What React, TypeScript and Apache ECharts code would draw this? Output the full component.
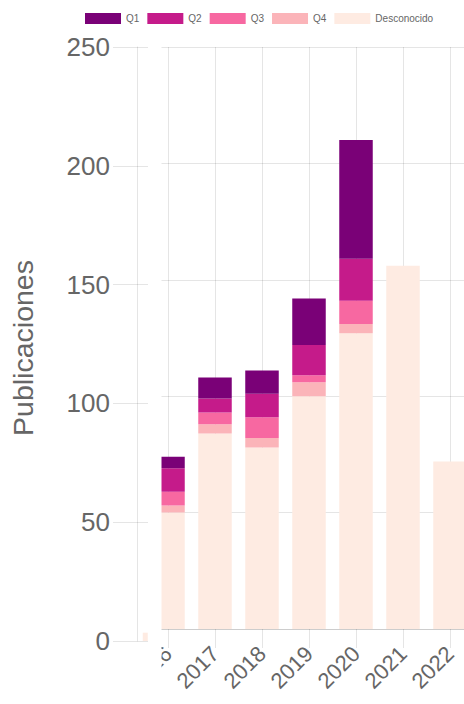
import React, { useEffect, useRef } from "react";
import * as echarts from "echarts";

const years = ["2016", "2017", "2018", "2019", "2020", "2021", "2022"];
const q1 = [5, 9, 10, 20, 51, 0, 0];
const q2 = [10, 6, 10, 13, 18, 0, 0];
const q3 = [6, 5, 9, 3, 10, 0, 0];
const q4 = [3, 4, 4, 6, 4, 0, 0];
const desconocido = [50, 84, 78, 100, 127, 156, 72];
// remnant of a hidden bar visible beside the fixed axis
const leftRemnant = [0, 3.5];

const yTicks = { min: 0, max: 250, interval: 50 };
const colors = {
  Q1: "#7a0177",
  Q2: "#c51b8a",
  Q3: "#f768a1",
  Q4: "#fbb4b9",
  Desconocido: "#feebe2",
};
const FONT = "'Liberation Sans', Arial, Helvetica, sans-serif";
const GRID_COLOR = "rgba(0,0,0,0.1)";
const TEXT_COLOR = "#666";

export default function App() {
  const ref = useRef<HTMLDivElement>(null);
  useEffect(() => {
    if (!ref.current) return;
    const chart = echarts.init(ref.current, undefined, { renderer: "svg" });
    const stackSeries = [
      { name: "Desconocido", data: desconocido },
      { name: "Q4", data: q4 },
      { name: "Q3", data: q3 },
      { name: "Q2", data: q2 },
      { name: "Q1", data: q1 },
    ].map((s) => ({
      name: s.name,
      type: "bar",
      stack: "total",
      xAxisIndex: 1,
      yAxisIndex: 1,
      barWidth: 33.5,
      data: s.data,
      itemStyle: { color: (colors as any)[s.name] },
    }));
    chart.setOption({
      animation: false,
      textStyle: { fontFamily: FONT },
      legend: {
        data: ["Q1", "Q2", "Q3", "Q4", "Desconocido"],
        left: 85,
        top: 13,
        padding: 0,
        itemWidth: 36,
        itemHeight: 11,
        itemGap: 8,
        icon: "rect",
        textStyle: { fontSize: 10, color: TEXT_COLOR, fontFamily: FONT },
      },
      grid: [
        { left: 137, top: 47, width: 11, height: 594 },
        { left: 144.5, top: 47, width: 329, height: 582 },
      ],
      xAxis: [
        {
          gridIndex: 0,
          type: "category",
          data: ["", ""],
          show: false,
        },
        {
          gridIndex: 1,
          type: "category",
          data: years,
          boundaryGap: true,
          axisLine: { show: true, lineStyle: { color: GRID_COLOR, width: 1 } },
          axisTick: {
            show: true,
            alignWithLabel: true,
            length: 19,
            lineStyle: { color: GRID_COLOR },
          },
          splitLine: { show: false },
          axisLabel: {
            interval: 0,
            rotate: 45,
            margin: 21,
            fontSize: 22,
            color: TEXT_COLOR,
            fontFamily: FONT,
          },
        },
        {
          // helper axis: vertical grid lines through the category centres
          gridIndex: 1,
          type: "value",
          min: -0.5,
          max: 6.5,
          minInterval: 1,
          maxInterval: 1,
          position: "bottom",
          axisLine: { show: false },
          axisTick: { show: false },
          axisLabel: { show: false },
          splitLine: { show: true, lineStyle: { color: GRID_COLOR, width: 1 } },
        },
      ],
      yAxis: [
        {
          gridIndex: 0,
          type: "value",
          ...yTicks,
          z: 10,
          name: "Publicaciones",
          nameLocation: "middle",
          nameRotate: 90,
          nameGap: 100,
          nameTextStyle: {
            fontSize: 28.5,
            color: TEXT_COLOR,
            fontFamily: FONT,
            padding: [0, 8, 0, 0],
          },
          axisLine: { show: true, lineStyle: { color: GRID_COLOR, width: 1 } },
          axisTick: { show: true, length: 24, lineStyle: { color: GRID_COLOR } },
          splitLine: { show: true, lineStyle: { color: GRID_COLOR, width: 1 } },
          axisLabel: { margin: 27, fontSize: 26, color: TEXT_COLOR, fontFamily: FONT },
        },
        {
          gridIndex: 1,
          type: "value",
          ...yTicks,
          axisLine: { show: false },
          axisTick: { show: false },
          axisLabel: { show: false },
          splitLine: { show: true, lineStyle: { color: GRID_COLOR, width: 1 } },
        },
      ],
      graphic: [
        {
          type: "rect",
          z: 5,
          shape: { x: 60, y: 40, width: 101.5, height: 664 },
          style: { fill: "#ffffff" },
          silent: true,
        },
      ],
      series: [
        ...stackSeries,
        {
          name: "Desconocido",
          type: "bar",
          xAxisIndex: 0,
          yAxisIndex: 0,
          barWidth: 5,
          z: 11,
          data: leftRemnant,
          itemStyle: { color: colors.Desconocido },
        },
      ],
    });
    return () => chart.dispose();
  }, []);
  return (
    <div
      ref={ref}
      style={{ position: "fixed", left: 0, top: 0, width: 480, height: 704, background: "#fff" }}
    />
  );
}
